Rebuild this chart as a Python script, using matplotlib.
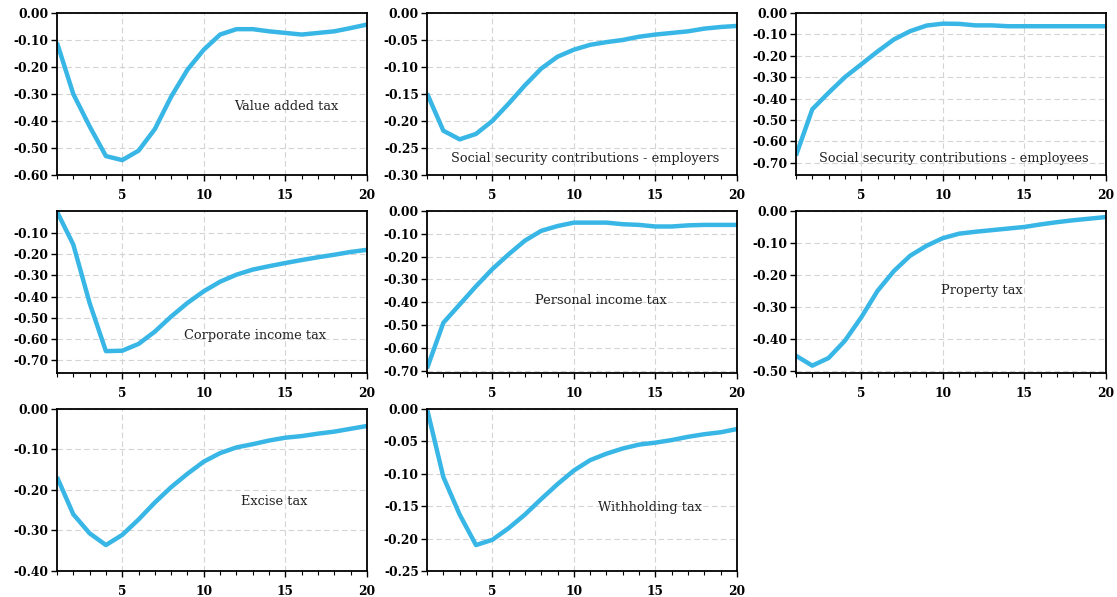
import matplotlib
matplotlib.use("Agg")
import matplotlib.pyplot as plt
from matplotlib.ticker import MultipleLocator, FixedLocator

periods = list(range(1, 21))

vat = [-0.11, -0.30, -0.42, -0.53, -0.545, -0.51, -0.43, -0.31, -0.21, -0.136,
       -0.08, -0.06, -0.06, -0.068, -0.074, -0.08, -0.074, -0.068, -0.056, -0.043]
ssc_employers = [-0.149, -0.218, -0.234, -0.224, -0.20, -0.168, -0.134, -0.103, -0.081, -0.068,
                 -0.059, -0.054, -0.050, -0.044, -0.040, -0.037, -0.034, -0.029, -0.026, -0.024]
ssc_employees = [-0.666, -0.45, -0.373, -0.30, -0.24, -0.18, -0.124, -0.085, -0.059, -0.05,
                 -0.051, -0.058, -0.058, -0.062, -0.062, -0.062, -0.062, -0.062, -0.062, -0.062]
corporate = [0.0, -0.155, -0.43, -0.657, -0.655, -0.623, -0.565, -0.494, -0.43, -0.375,
             -0.33, -0.297, -0.273, -0.257, -0.242, -0.228, -0.215, -0.203, -0.19, -0.18]
personal = [-0.69, -0.49, -0.41, -0.33, -0.255, -0.19, -0.13, -0.087, -0.066, -0.051,
            -0.051, -0.051, -0.058, -0.061, -0.068, -0.068, -0.063, -0.061, -0.061, -0.061]
property_tax = [-0.453, -0.484, -0.46, -0.406, -0.333, -0.25, -0.188, -0.14, -0.109, -0.085,
                -0.071, -0.065, -0.06, -0.055, -0.05, -0.042, -0.035, -0.029, -0.024, -0.019]
excise = [-0.168, -0.26, -0.307, -0.336, -0.311, -0.273, -0.231, -0.193, -0.16, -0.13,
          -0.109, -0.095, -0.087, -0.078, -0.071, -0.067, -0.061, -0.056, -0.049, -0.042]
withholding = [0.0, -0.105, -0.163, -0.21, -0.202, -0.184, -0.163, -0.139, -0.116, -0.095,
               -0.079, -0.069, -0.061, -0.055, -0.052, -0.048, -0.043, -0.039, -0.036, -0.031]

titles = ["Value added tax", "Social security contributions - employers",
          "Social security contributions - employees", "Corporate income tax",
          "Personal income tax", "Property tax", "Excise tax", "Withholding tax"]
series = [vat, ssc_employers, ssc_employees, corporate, personal, property_tax, excise, withholding]
y_ticks = [
    [0.0, -0.1, -0.2, -0.3, -0.4, -0.5, -0.6],
    [0.0, -0.05, -0.10, -0.15, -0.20, -0.25, -0.30],
    [0.0, -0.1, -0.2, -0.3, -0.4, -0.5, -0.6, -0.7],
    [-0.1, -0.2, -0.3, -0.4, -0.5, -0.6, -0.7],
    [0.0, -0.1, -0.2, -0.3, -0.4, -0.5, -0.6, -0.7],
    [0.0, -0.1, -0.2, -0.3, -0.4, -0.5],
    [0.0, -0.1, -0.2, -0.3, -0.4],
    [0.0, -0.05, -0.10, -0.15, -0.20, -0.25],
]
y_limits = [(-0.6, 0.0), (-0.30, 0.0), (-0.757, 0.0), (-0.76, 0.003),
            (-0.71, 0.0), (-0.507, 0.0), (-0.40, 0.0), (-0.25, 0.0)]
label_pos = [(0.74, 0.42), (0.51, 0.10), (0.51, 0.10), (0.64, 0.23),
             (0.56, 0.45), (0.60, 0.51), (0.70, 0.43), (0.72, 0.39)]

fig = plt.figure(figsize=(11.17, 5.97), dpi=100)
lefts = [0.051, 0.3823, 0.7126]
bottoms = [0.7069, 0.3752, 0.0436]
w, h = 0.2775, 0.2714
line_color = "#38b6e5"
tick_font = {"family": "DejaVu Serif", "weight": "bold", "size": 8.8}

for i, (vals, title) in enumerate(zip(series, titles)):
    r, c = divmod(i, 3)
    ax = fig.add_axes([lefts[c], bottoms[r], w, h])
    ax.plot(periods, vals, color=line_color, lw=3.2, solid_capstyle="butt")
    ax.set_xlim(1, 20)
    ax.set_ylim(*y_limits[i])
    ax.xaxis.set_major_locator(FixedLocator([5, 10, 15, 20]))
    ax.xaxis.set_minor_locator(MultipleLocator(1))
    ax.yaxis.set_major_locator(FixedLocator(y_ticks[i]))
    ax.set_yticklabels([f"{t:.2f}" if t != 0 else "0.00" for t in y_ticks[i]], fontdict=tick_font)
    ax.set_xticklabels(["5", "10", "15", "20"], fontdict=tick_font)
    ax.grid(True, which="major", color="#d4d4d4", linestyle=(0, (5, 3)), lw=0.8)
    ax.tick_params(which="major", length=4, width=1, direction="out", pad=2)
    ax.tick_params(which="minor", length=3, width=0.8, direction="out")
    ax.tick_params(axis="x", pad=6)
    for s in ax.spines.values():
        s.set_linewidth(1.3)
    ax.text(label_pos[i][0], label_pos[i][1], title, transform=ax.transAxes,
            ha="center", va="center", family="DejaVu Serif", fontsize=9.3, color="#222222")

fig.savefig("out.png", dpi=100)
